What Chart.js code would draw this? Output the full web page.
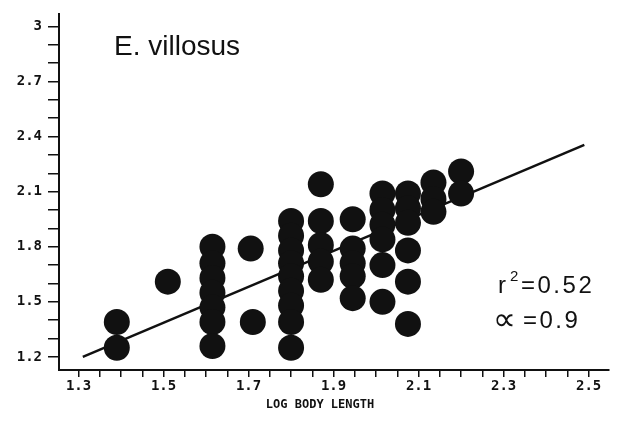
<!DOCTYPE html>
<html>
<head>
<meta charset="utf-8">
<script src="https://cdn.jsdelivr.net/npm/chart.js@4.4.1/dist/chart.umd.min.js"></script>
<style>
html, body { margin: 0; padding: 0; background: #fff; }
</style>
</head>
<body>
<canvas id="grafico" width="622" height="433"></canvas>
<script>
// log body length de cada punto (x)
const logBodyLength = [
	1.39, 1.39,
	1.51,
	1.615, 1.615, 1.615, 1.615, 1.615, 1.615, 1.615,
	1.705, 1.71,
	1.80, 1.80, 1.80, 1.80, 1.80, 1.80, 1.80, 1.80, 1.80,
	1.87, 1.87, 1.87, 1.87, 1.87,
	1.945, 1.945, 1.945, 1.945, 1.945,
	2.015, 2.015, 2.015, 2.015, 2.015, 2.015,
	2.075, 2.075, 2.075, 2.075, 2.075, 2.075,
	2.135, 2.135, 2.135,
	2.20, 2.20
];
// valor en el eje y de cada punto
const logValue = [
	1.39, 1.25,
	1.61,
	1.80, 1.71, 1.63, 1.55, 1.47, 1.39, 1.26,
	1.79, 1.39,
	1.94, 1.86, 1.78, 1.71, 1.64, 1.56, 1.48, 1.39, 1.25,
	2.14, 1.94, 1.81, 1.72, 1.62,
	1.95, 1.79, 1.71, 1.64, 1.52,
	2.09, 2.00, 1.92, 1.84, 1.70, 1.50,
	2.09, 2.01, 1.93, 1.78, 1.61, 1.38,
	2.15, 2.06, 1.99,
	2.21, 2.09
];

// extremos de la recta de regresion
const lineaX = [1.31, 2.49];
const lineaY = [1.20, 2.355];

// etiquetas
const especie = 'E. villosus';
const r2 = '0.52';
const alfa = '0.9';
const tituloX = 'LOG BODY LENGTH';

const tinta = '#111111';
const fuenteEjes = '"DejaVu Sans Mono", monospace';

Chart.defaults.color = tinta;
Chart.defaults.font.family = fuenteEjes;

function puntos(xs, ys){
	let out = [];
	for (let i = 0; i < xs.length; i++) {
		out.push({x: xs[i], y: ys[i]});
	}
	return out;
}

// dibuja texto letra por letra con un espaciado extra
function textoEspaciado(ctx, texto, x, y, extra){
	for (const ch of texto) {
		ctx.fillText(ch, x, y);
		x += ctx.measureText(ch).width + extra;
	}
	return x;
}

// textos sueltos dentro del grafico
const textos = {
	id: 'textos',
	afterDraw(chart){
		const ctx = chart.ctx;
		ctx.save();
		ctx.fillStyle = tinta;
		ctx.textBaseline = 'alphabetic';
		ctx.textAlign = 'left';

		ctx.font = '28px "Liberation Sans", Arial, sans-serif';
		ctx.fillText(especie, 114, 55);

		ctx.font = '24px "Liberation Sans", Arial, sans-serif';
		ctx.fillText('r', 498, 293);
		ctx.font = '15px "Liberation Sans", Arial, sans-serif';
		ctx.fillText('2', 510, 281);
		ctx.font = '24px "Liberation Sans", Arial, sans-serif';
		textoEspaciado(ctx, '=' + r2, 521, 293, 2.5);

		ctx.font = '32px "DejaVu Sans", sans-serif';
		ctx.fillText('\u221D', 493, 330);
		ctx.font = '24px "Liberation Sans", Arial, sans-serif';
		textoEspaciado(ctx, '=' + alfa, 523, 328, 2.5);

		ctx.font = 'bold 12px ' + fuenteEjes;
		ctx.textAlign = 'center';
		ctx.textBaseline = 'middle';
		ctx.fillText(tituloX, 320, 405);
		ctx.restore();
	}
};

function esMayor(v, base, paso){
	const k = (v - base) / paso;
	return Math.abs(k - Math.round(k)) < 0.01;
}

const config = {
	type: 'scatter',
	data: {
		datasets: [
			{
				label: 'puntos',
				data: puntos(logBodyLength, logValue),
				backgroundColor: tinta,
				borderWidth: 0,
				pointRadius: 13,
				pointHoverRadius: 13
			},
			{
				label: 'recta',
				data: puntos(lineaX, lineaY),
				showLine: true,
				borderColor: tinta,
				borderWidth: 2.5,
				pointRadius: 0,
				pointHoverRadius: 0
			}
		]
	},
	options: {
		responsive: false,
		animation: false,
		events: [],
		layout: { padding: { top: 13, right: 12, left: 0, bottom: 0 } },
		plugins: {
			legend: { display: false },
			tooltip: { enabled: false }
		},
		scales: {
			x: {
				type: 'linear',
				min: 1.254,
				max: 2.548,
				afterFit(scale){ scale.height = 63; },
				border: { color: tinta, width: 2 },
				grid: {
					drawOnChartArea: false,
					color: tinta,
					lineWidth: 1.5,
					tickLength: 7
				},
				ticks: {
					stepSize: 0.05,
					includeBounds: false,
					autoSkip: false,
					maxRotation: 0,
					padding: 1,
					font: { size: 14, weight: 'bold' },
					callback: v => esMayor(v, 1.3, 0.2) ? v.toFixed(1) : ''
				}
			},
			y: {
				type: 'linear',
				min: 1.129,
				max: 3.065,
				afterFit(scale){ scale.width = 59; },
				border: { color: tinta, width: 2 },
				grid: {
					drawOnChartArea: false,
					color: tinta,
					lineWidth: 1.5,
					tickLength: 11
				},
				ticks: {
					stepSize: 0.1,
					includeBounds: false,
					autoSkip: false,
					padding: 6,
					font: { size: 14, weight: 'bold' },
					callback: v => {
						if (!esMayor(v, 1.2, 0.3)) return '';
						return v > 2.99 ? '3' : v.toFixed(1);
					}
				}
			}
		}
	},
	plugins: [textos]
};

let grafico = new Chart(document.querySelector('#grafico'), config);
</script>
</body>
</html>
